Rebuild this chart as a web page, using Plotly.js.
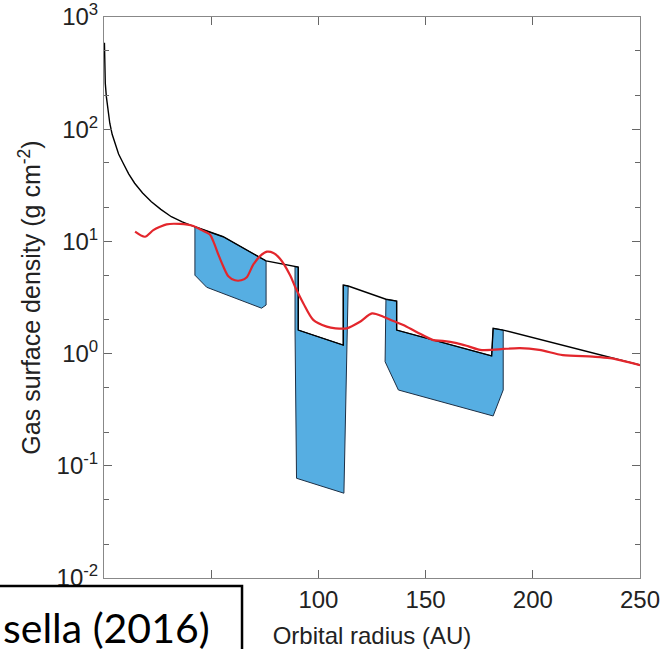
<!DOCTYPE html>
<html>
<head>
<meta charset="utf-8">
<script src="https://cdn.plot.ly/plotly-3.0.1.min.js"></script>
<style>html,body{margin:0;padding:0;background:#fff;}#chart{width:666px;height:649px;}</style>
</head>
<body>
<div id="chart"></div>
<script>
// Model (black) gas surface density profile, including gap notches
var modelR = [0.2, 0.3, 0.6, 1.1, 1.8, 2.7, 3.8, 5.0, 6.8, 8.9, 11.5, 14.3, 18.0, 22.1, 26.5, 31.4, 36.5, 42.4, 55.6, 75.6, 89.1, 90.6, 90.6, 111.6, 111.6, 113.9, 131.5, 136.5, 136.5, 180.8, 181.5, 186.2, 250];
var modelS = [590, 400, 256, 195, 145, 113, 90, 75, 60, 50, 40, 33, 27, 22.6, 19.3, 16.6, 14.9, 13.5, 11.0, 6.7, 5.96, 5.9, 1.62, 1.19, 4.08, 4.0, 3.05, 2.94, 1.62, 0.953, 1.68, 1.62, 0.79];

// Blue gap regions (closed outlines)
var gap1R = [42.4, 55.6, 75.6, 75.6, 73.5, 47.9, 42.4, 42.4];
var gap1S = [13.5, 11.0, 6.7, 2.71, 2.54, 3.90, 5.0, 13.5];
var gap2R = [89.1, 90.6, 90.6, 111.6, 111.6, 113.9, 111.9, 89.8, 89.1, 89.1];
var gap2S = [5.96, 5.9, 1.62, 1.19, 4.08, 4.0, 0.057, 0.0774, 1.62, 5.96];
var gap3R = [131.5, 136.5, 136.5, 180.8, 181.5, 186.2, 186.2, 181.5, 137.3, 131.1, 131.5];
var gap3S = [3.05, 2.94, 1.62, 0.953, 1.68, 1.62, 0.474, 0.278, 0.474, 0.847, 3.05];

// Red curve
var redR = [14.5, 19.1, 23.0, 26.1, 29.2, 35.4, 41.7, 45.6, 49.4, 51.0, 53.5, 55.6, 58.0, 61.1, 64.0, 66.6, 69.6, 72.8, 76.0, 79.0, 82.1, 86.8, 89.5, 93.0, 97.6, 103.9, 108.0, 113.2, 119.4, 125.0, 130.3, 135.0, 139.6, 146.0, 153.6, 158.0, 164.5, 170.0, 175.4, 181.0, 186.2, 194.0, 203.0, 214.0, 228.0, 236.0, 250.0];
var redS = [12.2, 11.0, 12.6, 13.5, 14.2, 14.3, 13.7, 12.6, 11.5, 10.0, 7.5, 6.0, 4.9, 4.5, 4.5, 4.8, 6.2, 7.4, 8.1, 7.9, 7.0, 5.0, 3.8, 2.8, 2.0, 1.74, 1.68, 1.68, 1.92, 2.28, 2.13, 1.95, 1.80, 1.55, 1.32, 1.30, 1.24, 1.16, 1.08, 1.08, 1.10, 1.12, 1.08, 0.97, 0.94, 0.91, 0.79];

// Axis ticks (labels at 0 and 50 are hidden behind the citation box in the reference)
var xTicks = [0, 50, 100, 150, 200, 250];
var xTickText = ['', '', '100', '150', '200', '250'];
var yTicks = [0.01, 0.1, 1, 10, 100, 1000];
var yTickText = ['10<sup>-2</sup>', '10<sup>-1</sup>', '10<sup>0</sup>', '10<sup>1</sup>', '10<sup>2</sup>', '10<sup>3</sup>'];
var yMinor = [0.02, 0.05, 0.2, 0.5, 2, 5, 20, 50, 200, 500];

var blue = '#56AEE2';
var edge = '#1d2f45';
function gapTrace(r, s) {
  return {x: r, y: s, type: 'scatter', mode: 'lines', fill: 'toself', fillcolor: blue,
          line: {color: edge, width: 1}, hoverinfo: 'skip'};
}
var traces = [
  gapTrace(gap1R, gap1S),
  gapTrace(gap2R, gap2S),
  gapTrace(gap3R, gap3S),
  {x: modelR, y: modelS, type: 'scatter', mode: 'lines', line: {color: '#000', width: 1.4}},
  {x: redR, y: redS, type: 'scatter', mode: 'lines', line: {color: '#e3262c', width: 2.2, shape: 'spline', smoothing: 0.8}}
];

var layout = {
  width: 666, height: 649,
  margin: {l: 104, r: 26, t: 17, b: 71},
  paper_bgcolor: '#fff', plot_bgcolor: '#fff',
  showlegend: false,
  font: {family: 'Liberation Sans, Arial, sans-serif', size: 24, color: '#222'},
  xaxis: {
    range: [0, 250], tickmode: 'array', tickvals: xTicks, ticktext: xTickText, ticks: 'inside', ticklen: 8, tickcolor: '#666',
    showline: true, linecolor: '#888', linewidth: 1, mirror: 'ticks', showgrid: false, zeroline: false,
    tickfont: {size: 24}, title: {text: 'Orbital radius (AU)', font: {size: 24}, standoff: 16}
  },
  yaxis: {
    type: 'log', range: [-2, 3], tickmode: 'array', tickvals: yTicks, ticktext: yTickText,
    ticks: 'inside', ticklen: 8, tickcolor: '#666',
    minor: {tickmode: 'array', tickvals: yMinor, ticks: 'inside', ticklen: 5, tickcolor: '#666'},
    showline: true, linecolor: '#888', linewidth: 1, mirror: 'ticks', showgrid: false, zeroline: false,
    tickfont: {size: 24}, title: {text: 'Gas surface density (g cm<sup>-2</sup>)', font: {size: 25}, standoff: 8}
  },
  shapes: [{
    type: 'rect', xref: 'paper', yref: 'paper', x0: -0.2127, x1: 0.2575, y0: -0.01426, y1: -0.146,
    line: {color: '#000', width: 2.5}, fillcolor: '#fff', layer: 'above'
  }],
  annotations: [{
    xref: 'paper', yref: 'paper', x: 0.2015, y: -0.089, xanchor: 'right', yanchor: 'middle',
    text: 'sella (2016)', showarrow: false, font: {family: 'Lato, Carlito, sans-serif', size: 41, color: '#000'}
  }]
};

Plotly.newPlot('chart', traces, layout, {displayModeBar: false, staticPlot: true});
</script>
</body>
</html>
